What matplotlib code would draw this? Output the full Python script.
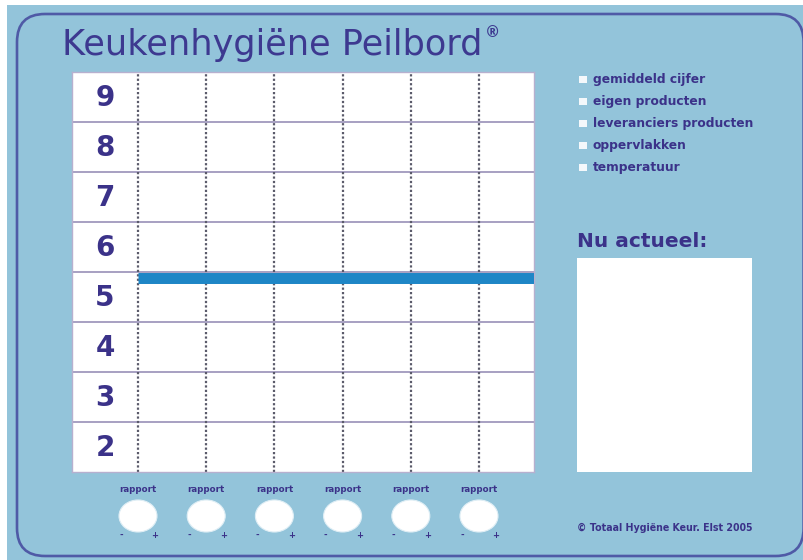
import matplotlib
matplotlib.use("Agg")
import matplotlib.pyplot as plt
from matplotlib.patches import FancyBboxPatch, Rectangle, Ellipse

# ---- content ----
title = "Keukenhygiëne Peilbord"
title_mark = "®"
score_rows = [9, 8, 7, 6, 5, 4, 3, 2]
report_positions = [1, 2, 3, 4, 5, 6]
report_labels = ["rapport", "rapport", "rapport", "rapport", "rapport", "rapport"]
legend_items = ["gemiddeld cijfer", "eigen producten", "leveranciers producten",
                "oppervlakken", "temperatuur"]
average_score = 5.39
side_title = "Nu actueel:"
footer = "© Totaal Hygiëne Keur. Elst 2005"

# ---- styles ----
BOARD = "#93c4da"
BORDER = "#4f5aa6"
INK = "#3b3289"
BAR = "#1e86c6"
W, H = 804, 560

fig = plt.figure(figsize=(W / 100, H / 100), dpi=100)
fig.patch.set_facecolor("white")

# background / decoration axes in pixel units
bg = fig.add_axes([0, 0, 1, 1])
bg.set_xlim(0, W)
bg.set_ylim(H, 0)
bg.axis("off")
bg.add_patch(Rectangle((7, 5), W - 7, H - 5, facecolor=BOARD, edgecolor="none"))
frame = FancyBboxPatch((17, 14), 786.6, 542,
                       boxstyle="round,pad=0,rounding_size=28",
                       facecolor="none", edgecolor=BORDER, linewidth=1.9)
bg.add_patch(frame)

t = bg.text(62, 55, title, fontsize=25.3, color="#3d3990",
            ha="left", va="baseline", family="DejaVu Sans")
fig.canvas.draw()
bb = t.get_window_extent()
bg.text(bb.x1 + 2, 37, title_mark, fontsize=11, color="#3d3990",
        ha="left", va="baseline", fontweight="bold")

# legend
for i, item in enumerate(legend_items):
    yc = 79 + i * 22
    bg.add_patch(Rectangle((579, yc - 3.5), 8, 7, facecolor="#f4f8fb", edgecolor="none"))
    bg.text(593, yc, item, fontsize=8.8, fontweight="bold", color=INK,
            ha="left", va="center")

# "Nu actueel" box
bg.text(577, 247, side_title, fontsize=14.5, fontweight="bold", color=INK,
        ha="left", va="baseline")
bg.add_patch(Rectangle((577, 258), 175, 214, facecolor="white", edgecolor="none"))

bg.text(577, 528, footer, fontsize=6.85, fontweight="bold", color=INK,
        ha="left", va="center")

# ---- main grid ----
px_per_unit = (479 - 138) / 5.0
x_left = 1 - (138 - 72) / px_per_unit
x_right = 6 + (534 - 479) / px_per_unit

ax = fig.add_axes([72 / W, (H - 472) / H, (534 - 72) / W, 400 / H])
ax.set_facecolor("white")
ax.set_xlim(x_left, x_right)
ax.set_ylim(min(score_rows) - 0.5, max(score_rows) + 0.5)
ax.set_xticks([])
ax.set_yticks([])
for s in ax.spines.values():
    s.set_color("#b7b0cf")
    s.set_linewidth(1.0)

ax.hlines([r + 0.5 for r in score_rows[1:]], x_left, x_right,
          color="#8f86b2", linewidth=1.1, zorder=1)
ax.vlines(report_positions, min(score_rows) - 0.5, max(score_rows) + 0.5,
          color="#5a5a6a", linewidth=1.6, linestyles=(0, (1, 1)), zorder=2)
ax.hlines(average_score, report_positions[0], x_right, color=BAR,
          linewidth=7.9, capstyle="butt", zorder=3)

for r in score_rows:
    ax.text((x_left + report_positions[0]) / 2, r - 0.03, str(r), fontsize=20,
            fontweight="bold", color=INK, ha="center", va="center")

# ---- report strip ----
rs = fig.add_axes([72 / W, (H - 545) / H, (534 - 72) / W, 65 / H])
rs.set_xlim(x_left, x_right)
rs.set_ylim(545, 480)
rs.axis("off")
for xp, lab in zip(report_positions, report_labels):
    rs.add_patch(Ellipse((xp, 516), 38 / px_per_unit, 32,
                         facecolor="white", edgecolor="#dfeef5", linewidth=0.8))
    rs.text(xp, 490, lab, fontsize=6.2, fontweight="bold", color=INK,
            ha="center", va="center")
    rs.text(xp - 17 / px_per_unit, 535, "-", fontsize=6, fontweight="bold",
            color=INK, ha="center", va="center")
    rs.text(xp + 17 / px_per_unit, 535, "+", fontsize=6, fontweight="bold",
            color=INK, ha="center", va="center")

fig.savefig("out.png", dpi=100, facecolor=fig.get_facecolor())
